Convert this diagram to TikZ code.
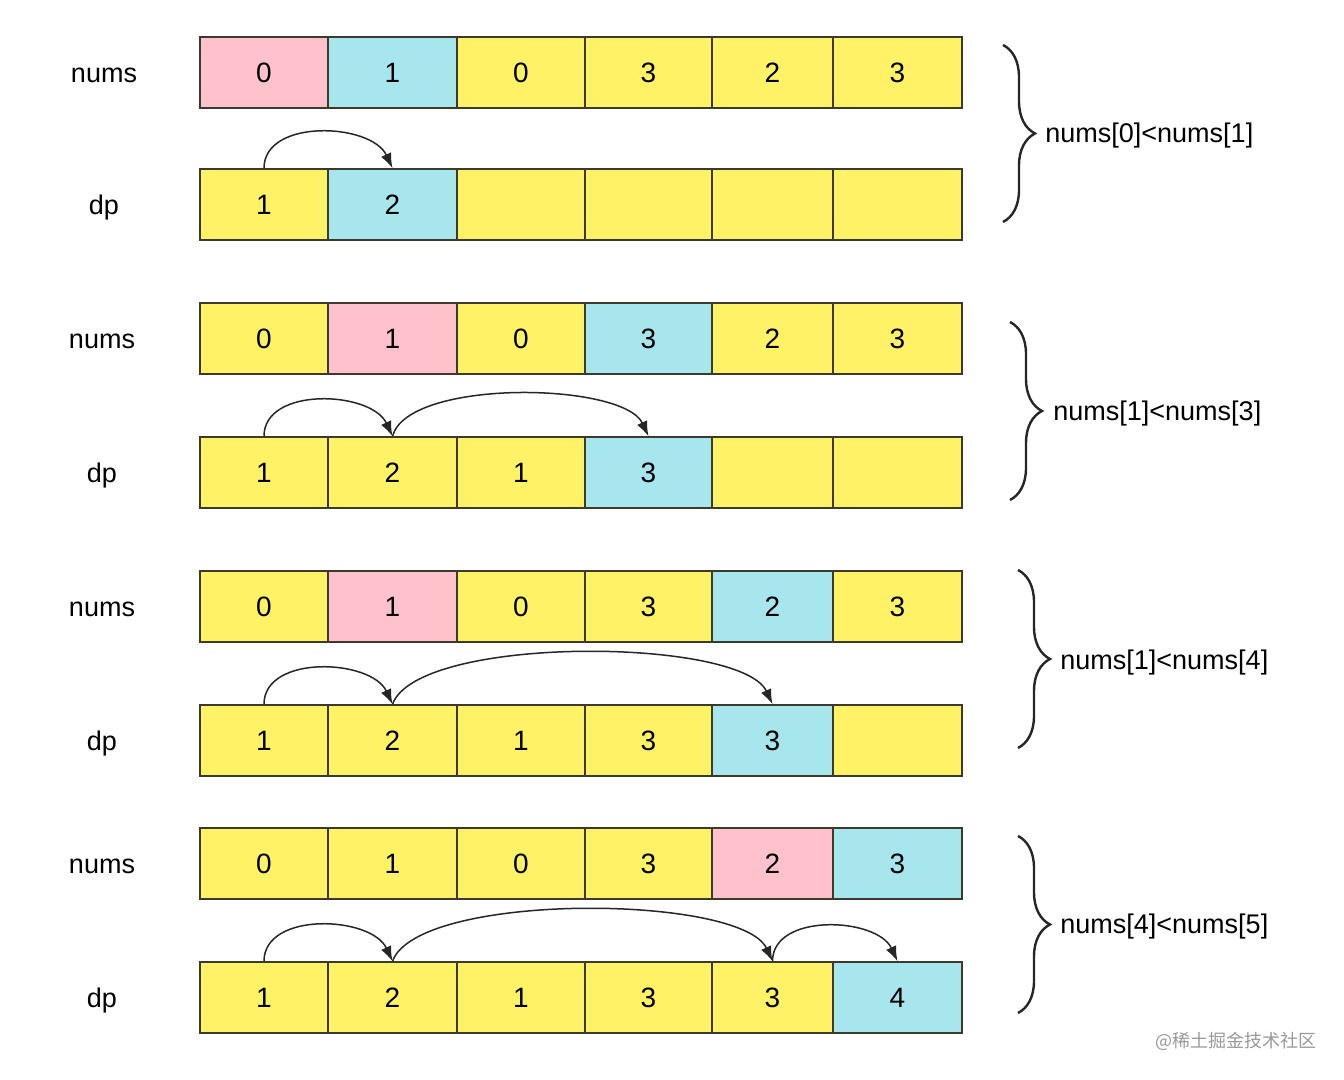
\documentclass[tikz,border=0pt]{standalone}
\usepackage{fontspec}
\setmainfont{Liberation Sans}
\newfontfamily\cjk{Noto Sans CJK SC}
\usetikzlibrary{arrows.meta,decorations.pathreplacing}

\definecolor{yel}{RGB}{255,242,102}
\definecolor{pnk}{RGB}{255,194,204}
\definecolor{cyn}{RGB}{168,230,238}
\definecolor{edge}{RGB}{60,58,45}

\tikzset{
  cell/.style={draw=edge, line width=0.75pt, minimum height=35.5pt, inner sep=0pt, font=\fontsize{14}{16}\selectfont},
  rowlabel/.style={font=\fontsize{13.5}{16}\selectfont},
  condlabel/.style={anchor=west, inner sep=0pt, font=\fontsize{13.5}{16}\selectfont},
  jump/.style={-{Latex[length=7.5pt,width=5.5pt]}, line width=0.75pt, black!85},
  bracedec/.style={decorate, decoration={brace, amplitude=16pt}, line width=1.2pt, black!85},
}

\begin{document}
\begin{tikzpicture}[x=0.5pt,y=0.5pt]
\useasboundingbox (0,0) rectangle (1344,1080);

% Step 1
\node[rowlabel] (la1) at (104,1004.5) {nums};
\node[rowlabel] (lb1) at (104,872.5) {dp};
\foreach \i/\x/\w/\v/\c in {0/264/128/0/pnk, 1/392.5/129/1/cyn, 2/521/128/0/yel, 3/648.5/127/3/yel, 4/772.5/121/2/yel, 5/897.5/129/3/yel}
    \node[cell, fill=\c, minimum width={\w*0.5pt}] (a1-\i) at (\x,1007.5) {\v};
\foreach \i/\x/\w/\v/\c in {0/264/128/1/yel, 1/392.5/129/2/cyn, 2/521/128/{}/yel, 3/648.5/127/{}/yel, 4/772.5/121/{}/yel, 5/897.5/129/{}/yel}
    \node[cell, fill=\c, minimum width={\w*0.5pt}] (b1-\i) at (\x,875.5) {\v};
\draw[jump] (b1-0.north) to[out=90,in=115] (b1-1.north);

% Step 2
\node[rowlabel] (la2) at (102,738.5) {nums};
\node[rowlabel] (lb2) at (102,604.5) {dp};
\foreach \i/\x/\w/\v/\c in {0/264/128/0/yel, 1/392.5/129/1/pnk, 2/521/128/0/yel, 3/648.5/127/3/cyn, 4/772.5/121/2/yel, 5/897.5/129/3/yel}
    \node[cell, fill=\c, minimum width={\w*0.5pt}] (a2-\i) at (\x,741.5) {\v};
\foreach \i/\x/\w/\v/\c in {0/264/128/1/yel, 1/392.5/129/2/yel, 2/521/128/1/yel, 3/648.5/127/3/cyn, 4/772.5/121/{}/yel, 5/897.5/129/{}/yel}
    \node[cell, fill=\c, minimum width={\w*0.5pt}] (b2-\i) at (\x,607.5) {\v};
\draw[jump] (b2-0.north) to[out=90,in=115] (b2-1.north);
\draw[jump] (b2-1.north) to[out=75,in=115,looseness=0.6] (b2-3.north);

% Step 3
\node[rowlabel] (la3) at (102,470.5) {nums};
\node[rowlabel] (lb3) at (102,336.5) {dp};
\foreach \i/\x/\w/\v/\c in {0/264/128/0/yel, 1/392.5/129/1/pnk, 2/521/128/0/yel, 3/648.5/127/3/yel, 4/772.5/121/2/cyn, 5/897.5/129/3/yel}
    \node[cell, fill=\c, minimum width={\w*0.5pt}] (a3-\i) at (\x,473.5) {\v};
\foreach \i/\x/\w/\v/\c in {0/264/128/1/yel, 1/392.5/129/2/yel, 2/521/128/1/yel, 3/648.5/127/3/yel, 4/772.5/121/3/cyn, 5/897.5/129/{}/yel}
    \node[cell, fill=\c, minimum width={\w*0.5pt}] (b3-\i) at (\x,339.5) {\v};
\draw[jump] (b3-0.north) to[out=90,in=115] (b3-1.north);
\draw[jump] (b3-1.north) to[out=70,in=115,looseness=0.5] (b3-4.north);

% Step 4
\node[rowlabel] (la4) at (102,213.5) {nums};
\node[rowlabel] (lb4) at (102,79.5) {dp};
\foreach \i/\x/\w/\v/\c in {0/264/128/0/yel, 1/392.5/129/1/yel, 2/521/128/0/yel, 3/648.5/127/3/yel, 4/772.5/121/2/pnk, 5/897.5/129/3/cyn}
    \node[cell, fill=\c, minimum width={\w*0.5pt}] (a4-\i) at (\x,216.5) {\v};
\foreach \i/\x/\w/\v/\c in {0/264/128/1/yel, 1/392.5/129/2/yel, 2/521/128/1/yel, 3/648.5/127/3/yel, 4/772.5/121/3/yel, 5/897.5/129/4/cyn}
    \node[cell, fill=\c, minimum width={\w*0.5pt}] (b4-\i) at (\x,82.5) {\v};
\draw[jump] (b4-0.north) to[out=90,in=115] (b4-1.north);
\draw[jump] (b4-1.north) to[out=70,in=115,looseness=0.5] (b4-4.north);
\draw[jump] (b4-4.north) to[out=90,in=115] (b4-5.north);

% Braces
\coordinate (t1) at (1003,1035); \coordinate (u1) at (1003,858);
\coordinate (t2) at (1010,758);  \coordinate (u2) at (1010,580);
\coordinate (t3) at (1018,510);  \coordinate (u3) at (1018,332);
\coordinate (t4) at (1018,244);  \coordinate (u4) at (1018,67);
\foreach \k in {1,2,3,4}
    \draw[bracedec] (t\k) -- (u\k);
\node[condlabel] (c1) at (1045,944) {nums[0]<nums[1]};
\node[condlabel] (c2) at (1053,666) {nums[1]<nums[3]};
\node[condlabel] (c3) at (1060,417) {nums[1]<nums[4]};
\node[condlabel] (c4) at (1060,153) {nums[4]<nums[5]};

% Watermark
\node[anchor=west, inner sep=0pt, text=black!40, font=\cjk\fontsize{9}{11}\selectfont] (wm) at (1155,39) {@稀土掘金技术社区};
\end{tikzpicture}
\end{document}
